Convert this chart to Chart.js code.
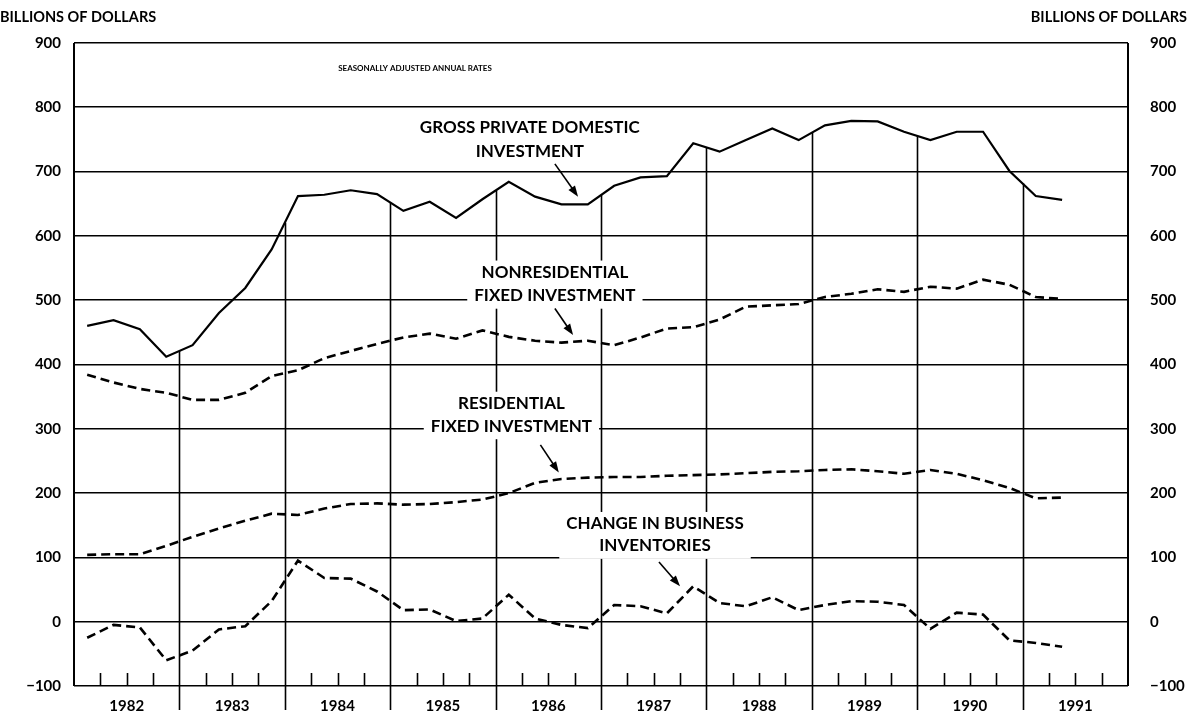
<!DOCTYPE html>
<html lang="en">
<head>
<meta charset="UTF-8">
<title>gross private domestic investment</title>
<script src="https://cdn.jsdelivr.net/npm/chart.js"></script>
<style>
    body { margin: 0; background: #fff; }
    canvas { display: block; }
</style>
</head>
<body>
<canvas id="invChart" width="1188" height="711"></canvas>
<script>
    // quarterly data, 1982 Q1 .. 1991 Q2, billions of dollars (seasonally adjusted annual rates)
    const years = ["1982", "1983", "1984", "1985", "1986", "1987", "1988", "1989", "1990", "1991"];
    const yTicks = [-100, 0, 100, 200, 300, 400, 500, 600, 700, 800, 900];

    const grossInvestment = [
        460, 469, 455, 412,
        430, 480, 519, 579,
        662, 664, 671, 665,
        639, 653, 628, 657,
        684, 661, 649, 649,
        678, 691, 693, 744,
        731, 749, 767, 749,
        772, 779, 778, 762,
        749, 762, 762, 701,
        662, 656
    ];
    const nonresFixed = [
        384, 372, 362, 356,
        345, 345, 356, 382,
        391, 410, 421, 432,
        442, 448, 440, 453,
        443, 437, 434, 437,
        430, 442, 456, 458,
        470, 490, 492, 494,
        505, 510, 517, 513,
        521, 518, 532, 524,
        505, 502
    ];
    const resFixed = [
        104, 105, 105, 118,
        132, 145, 157, 168,
        166, 176, 183, 184,
        182, 183, 186, 190,
        200, 216, 222, 224,
        225, 225, 227, 228,
        229, 231, 233, 234,
        236, 237, 234, 230,
        236, 230, 220, 208,
        192, 193
    ];
    const inventoryChange = [
        -25, -5, -9, -60,
        -45, -12, -7, 32,
        95, 68, 67, 47,
        18, 19, 1, 5,
        42, 5, -5, -10,
        26, 24, 13, 55,
        29, 24, 38, 18,
        26, 32, 31, 26,
        -11, 14, 11, -29,
        -33, -39
    ];

    // x axis runs in quarters: 0 = start of 1982, point i sits mid-quarter
    const toPoints = arr => arr.map((v, i) => ({ x: i + 0.5, y: v }));
    const fmt = v => v < 0 ? "\u2212" + Math.abs(v) : String(v);

    const FONT = "Lato, 'DejaVu Sans', sans-serif";

    // labels placed in data units (quarters, billions)
    const notes = [
        { lines: ["GROSS PRIVATE DOMESTIC", "INVESTMENT"], x: 17.3, y: [768, 732], box: false,
          arrow: [18.25, 712, 19.13, 661] },
        { lines: ["NONRESIDENTIAL", "FIXED INVESTMENT"], x: 18.25, y: [543, 507], box: true,
          arrow: [18.25, 487, 18.94, 446] },
        { lines: ["RESIDENTIAL", "FIXED INVESTMENT"], x: 16.6, y: [339, 304], box: true,
          arrow: [17.7, 275, 18.4, 232] },
        { lines: ["CHANGE IN BUSINESS", "INVENTORIES"], x: 22.05, y: [152, 118], box: true,
          arrow: [22.2, 93, 23.0, 55] }
    ];

    function drawArrow(ctx, x1, y1, x2, y2) {
        const a = Math.atan2(y2 - y1, x2 - x1);
        ctx.beginPath();
        ctx.moveTo(x1, y1);
        ctx.lineTo(x2 - 6 * Math.cos(a), y2 - 6 * Math.sin(a));
        ctx.lineWidth = 1.6;
        ctx.stroke();
        ctx.beginPath();
        ctx.moveTo(x2, y2);
        ctx.lineTo(x2 - 11 * Math.cos(a) + 4 * Math.sin(a), y2 - 11 * Math.sin(a) - 4 * Math.cos(a));
        ctx.lineTo(x2 - 11 * Math.cos(a) - 4 * Math.sin(a), y2 - 11 * Math.sin(a) + 4 * Math.cos(a));
        ctx.closePath();
        ctx.fill();
    }

    const framePlugin = {
        id: "frame",
        beforeDatasetsDraw(chart) {
            const { ctx, chartArea: ca, scales } = chart;
            const xs = scales.x, ys = scales.y;
            ctx.save();
            ctx.strokeStyle = "#000";
            // left / right borders
            ctx.lineWidth = 2;
            ctx.beginPath();
            ctx.moveTo(ca.left, ca.top); ctx.lineTo(ca.left, ca.bottom);
            ctx.moveTo(ca.right, ca.top); ctx.lineTo(ca.right, ca.bottom);
            ctx.stroke();
            // year boundaries run from below the axis up to the gross investment line
            ctx.lineWidth = 1.6;
            for (let k = 1; k < years.length; k++) {
                const q = 4 * k;
                const v = (grossInvestment[q - 1] + grossInvestment[q]) / 2;
                const px = Math.round(xs.getPixelForValue(q)) + 0.5;
                ctx.beginPath();
                ctx.moveTo(px, ca.bottom + 24);
                ctx.lineTo(px, ys.getPixelForValue(v));
                ctx.stroke();
            }
            // quarter ticks
            for (let q = 1; q < 40; q++) {
                if (q % 4 === 0) continue;
                const px = Math.round(xs.getPixelForValue(q)) + 0.5;
                ctx.beginPath();
                ctx.moveTo(px, ca.bottom);
                ctx.lineTo(px, ca.bottom - 13);
                ctx.stroke();
            }
            ctx.restore();
        },
        afterDatasetsDraw(chart) {
            const { ctx, scales } = chart;
            const xs = scales.x, ys = scales.y;
            ctx.save();
            ctx.fillStyle = "#000";
            ctx.strokeStyle = "#000";
            ctx.font = "bold 17px " + FONT;
            ctx.textAlign = "center";
            ctx.textBaseline = "middle";
            notes.forEach(n => {
                const cx = xs.getPixelForValue(n.x);
                if (n.box) {
                    const w = Math.max(...n.lines.map(t => ctx.measureText(t).width)) + 14;
                    const top = ys.getPixelForValue(n.y[0]) - 12;
                    const bot = ys.getPixelForValue(n.y[n.y.length - 1]) + 13;
                    ctx.fillStyle = "#fff";
                    ctx.fillRect(cx - w / 2, top, w, bot - top);
                    ctx.fillStyle = "#000";
                }
                n.lines.forEach((t, i) => ctx.fillText(t, cx, ys.getPixelForValue(n.y[i])));
                const a = n.arrow;
                drawArrow(ctx, xs.getPixelForValue(a[0]), ys.getPixelForValue(a[1]),
                    xs.getPixelForValue(a[2]), ys.getPixelForValue(a[3]));
            });
            ctx.font = "bold 8px " + FONT;
            ctx.fillText("SEASONALLY ADJUSTED ANNUAL RATES", xs.getPixelForValue(12.94), ys.getPixelForValue(860));
            ctx.restore();
        },
        afterDraw(chart) {
            const { ctx } = chart;
            ctx.save();
            ctx.fillStyle = "#000";
            ctx.font = "bold 14.5px " + FONT;
            ctx.textBaseline = "middle";
            ctx.textAlign = "left";
            ctx.fillText("BILLIONS OF DOLLARS", 0, 17);
            ctx.textAlign = "right";
            ctx.fillText("BILLIONS OF DOLLARS", chart.width - 1, 17);
            ctx.restore();
        }
    };

    const tickFont = { family: FONT, size: 15, weight: "bold" };

    new Chart(document.getElementById("invChart"), {
        type: "line",
        data: {
            datasets: [
                { label: "Gross private domestic investment", data: toPoints(grossInvestment),
                  borderColor: "#000", borderWidth: 2.2 },
                { label: "Nonresidential fixed investment", data: toPoints(nonresFixed),
                  borderColor: "#000", borderWidth: 2.6, borderDash: [9, 5] },
                { label: "Residential fixed investment", data: toPoints(resFixed),
                  borderColor: "#000", borderWidth: 2.6, borderDash: [9, 5] },
                { label: "Change in business inventories", data: toPoints(inventoryChange),
                  borderColor: "#000", borderWidth: 2.6, borderDash: [9, 5] }
            ]
        },
        options: {
            responsive: false,
            animation: false,
            devicePixelRatio: 1,
            layout: { padding: { top: 43 } },
            elements: { point: { radius: 0 }, line: { tension: 0, fill: false } },
            plugins: { legend: { display: false }, tooltip: { enabled: false } },
            scales: {
                x: {
                    type: "linear", min: 0, max: 40,
                    afterBuildTicks: s => { s.ticks = years.map((y, i) => ({ value: 4 * i + 2 })); },
                    afterFit: s => { s.height = 25; },
                    ticks: { callback: v => years[(v - 2) / 4], color: "#000", font: tickFont,
                             maxRotation: 0, autoSkip: false, padding: 3 },
                    grid: { display: false },
                    border: { display: false }
                },
                y: {
                    position: "left", min: -100, max: 900,
                    afterBuildTicks: s => { s.ticks = yTicks.map(v => ({ value: v })); },
                    afterFit: s => { s.width = 74; },
                    ticks: { callback: fmt, color: "#000", font: tickFont, padding: 13 },
                    grid: { color: "#000", lineWidth: 1.6, drawTicks: false },
                    border: { display: false }
                },
                y2: {
                    position: "right", min: -100, max: 900,
                    afterBuildTicks: s => { s.ticks = yTicks.map(v => ({ value: v })); },
                    afterFit: s => { s.width = 60; },
                    ticks: { callback: fmt, color: "#000", font: tickFont, padding: 14 },
                    grid: { display: false },
                    border: { display: false }
                }
            }
        },
        plugins: [framePlugin]
    });
</script>
</body>
</html>
